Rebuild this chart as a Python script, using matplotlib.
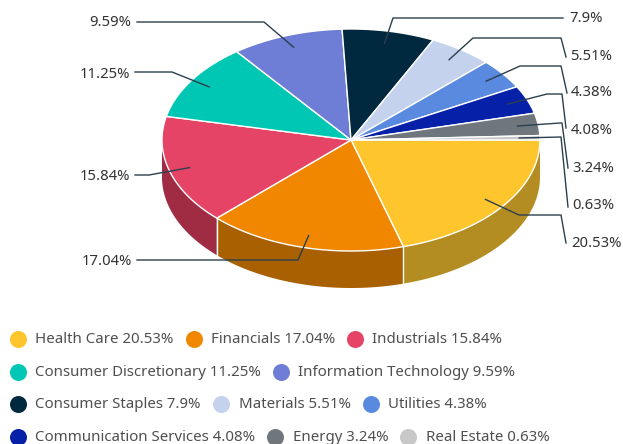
import numpy as np
import matplotlib
matplotlib.use('Agg')
import matplotlib.pyplot as plt
from matplotlib.patches import Polygon

plt.rcParams['font.family'] = ['Noto Sans', 'DejaVu Sans']

# Data
sectors = ['Health Care', 'Financials', 'Industrials', 'Consumer Discretionary',
           'Information Technology', 'Consumer Staples', 'Materials', 'Utilities',
           'Communication Services', 'Energy', 'Real Estate']
values = [20.53, 17.04, 15.84, 11.25, 9.59, 7.9, 5.51, 4.38, 4.08, 3.24, 0.63]
value_labels = ['20.53%', '17.04%', '15.84%', '11.25%', '9.59%', '7.9%', '5.51%',
                '4.38%', '4.08%', '3.24%', '0.63%']
colors = ['#ffc52d', '#f18700', '#e64466', '#00c7b4', '#6e7dd5', '#00293f',
          '#c5d2ed', '#5a8adf', '#0621a8', '#6f777c', '#c8c8c8']
side_colors = ['#b48d22', '#a86000', '#a02c44']

# Pie geometry in pixels
cx, cy = 351, 140
rx, ry = 189, 111
depth = 37

# Leader lines: bend points after the slice, then the label position
leader_bends = [
    [(519, 215), (561, 215), (566, 243)],
    [(298, 260), (137, 260)],
    [(149, 175), (135, 175)],
    [(172, 72), (135, 72)],
    [(264, 22), (137, 22)],
    [(393, 18), (563, 18)],
    [(473, 38), (561, 38), (566, 57)],
    [(520, 66), (561, 66), (567, 93)],
    [(547, 94), (562, 94), (566, 128)],
    [(560, 123), (562, 123), (568, 168)],
    [(561, 137), (568, 207)],
]
label_pos = [(571, 243), (132, 261), (130, 176), (130, 74), (131, 23), (569, 18),
             (570, 56), (571, 93), (571, 130), (572, 168), (572, 205)]

# Legend rows: sector index, marker x, text x
legend_rows = [
    (339, [(0, 18, 35), (1, 194, 211), (2, 355, 372)]),
    (372, [(3, 18, 35), (4, 281, 298)]),
    (404, [(5, 18, 35), (6, 221, 239), (7, 371, 388)]),
    (437, [(8, 18, 35), (9, 275, 293), (10, 408, 426)]),
]


def rim(a0, a1, n=80):
    t = np.deg2rad(np.linspace(a0, a1, n))
    return cx + rx * np.cos(t), cy + ry * np.sin(t)


fig = plt.figure(figsize=(6.23, 4.44), dpi=100)
ax = fig.add_axes([0, 0, 1, 1])
ax.set_xlim(0, 623)
ax.set_ylim(444, 0)
ax.axis('off')

edges = np.cumsum([0] + values) / 100 * 360

# side wall, only the front half shows
for i in range(3):
    a0, a1 = edges[i], min(edges[i + 1], 180)
    x, y = rim(a0, a1)
    pts = np.r_[np.c_[x, y], np.c_[x[::-1], y[::-1] + depth]]
    ax.add_patch(Polygon(pts, fc=side_colors[i], ec='none', zorder=1))
    if i < 2:
        ax.plot([x[-1], x[-1]], [y[-1], y[-1] + depth], color='white', lw=1, zorder=2)

# top of the pie
for i in range(len(values)):
    x, y = rim(edges[i], edges[i + 1])
    pts = np.r_[[(cx, cy)], np.c_[x, y]]
    ax.add_patch(Polygon(pts, fc=colors[i], ec='white', lw=1, joinstyle='round', zorder=3))

# leader lines and value labels
for i in range(len(values)):
    mid = np.deg2rad((edges[i] + edges[i + 1]) / 2)
    start = (cx + 0.89 * rx * np.cos(mid), cy + 0.89 * ry * np.sin(mid))
    xs, ys = zip(start, *leader_bends[i])
    ax.plot(xs, ys, color='#2b3f4e', lw=1, zorder=4)
    lx, ly = label_pos[i]
    ha = 'right' if lx < cx else 'left'
    ax.text(lx, ly, value_labels[i], ha=ha, va='center', fontsize=10.7, color='#333333', zorder=5)

# legend
for row_y, items in legend_rows:
    for idx, mx, tx in items:
        ax.scatter([mx], [row_y], s=150, color=colors[idx], linewidths=0, zorder=3)
        ax.text(tx, row_y, f'{sectors[idx]} {value_labels[idx]}', ha='left', va='center',
                fontsize=10.8, color='#4f4f4f')

fig.savefig('out.png', dpi=100)
